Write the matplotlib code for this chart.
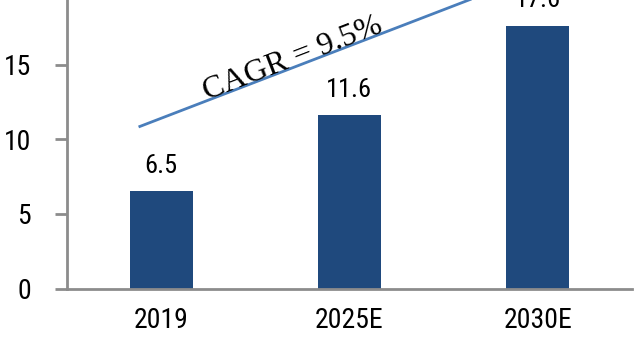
import matplotlib
matplotlib.use("Agg")
import matplotlib.pyplot as plt

# Market size by year
categories = ["2019", "2025E", "2030E"]
values = [6.5, 11.6, 17.6]
value_labels = ["6.5", "11.6", "17.6"]
y_ticks = [0, 5, 10, 15, 20]

# Growth trend line and its caption
cagr_text = "CAGR = 9.5%"
cagr_line_x = [-0.12, 2.0]
cagr_line_y = [10.82, 21.1]

BAR_COLOR = "#1F497D"
LINE_COLOR = "#4A7EBB"
AXIS_COLOR = "#8C8C8C"
SANS = ["Roboto Condensed", "Liberation Sans", "DejaVu Sans"]
SERIF = ["Liberation Serif", "DejaVu Serif"]

W, H = 640, 346
fig = plt.figure(figsize=(W / 100, H / 100), dpi=100)
# axes frame in pixels: left 67, right 632, baseline at 288.5, 14.93 px per unit
left, right, base = 67, 632, 288.5
ppu = 14.93
ax = fig.add_axes([left / W, (H - base) / H, (right - left) / W, 20 * ppu / H])

x = list(range(len(categories)))
ax.bar(x, values, width=0.335, color=BAR_COLOR, zorder=2)

for xi, v, lab in zip(x, values, value_labels):
    ax.annotate(lab, (xi, v), xytext=(0, 13.5), textcoords="offset points",
                ha="center", va="baseline", fontsize=19, family=SANS, color="black")

ax.plot(cagr_line_x, cagr_line_y, color=LINE_COLOR, lw=2, solid_capstyle="butt", zorder=3)
ax.text(0.715, 14.9, cagr_text, family=SERIF, fontsize=23, rotation=21.1,
        rotation_mode="anchor", ha="center", va="baseline", color="black")

ax.set_xlim(-0.5, 2.5)
ax.set_ylim(0, 20)
ax.set_yticks(y_ticks)
ax.set_yticklabels([str(t) for t in y_ticks], family=SANS, fontsize=20)
ax.set_xticks(x)
ax.set_xticklabels(categories, family=SANS, fontsize=20)

for s in ("top", "right"):
    ax.spines[s].set_visible(False)
for s in ("left", "bottom"):
    ax.spines[s].set_color(AXIS_COLOR)
    ax.spines[s].set_linewidth(2)
ax.tick_params(axis="y", length=9, width=2, color=AXIS_COLOR, pad=17, direction="out")
ax.tick_params(axis="x", length=0, pad=13)

fig.savefig("out.png", dpi=100)
